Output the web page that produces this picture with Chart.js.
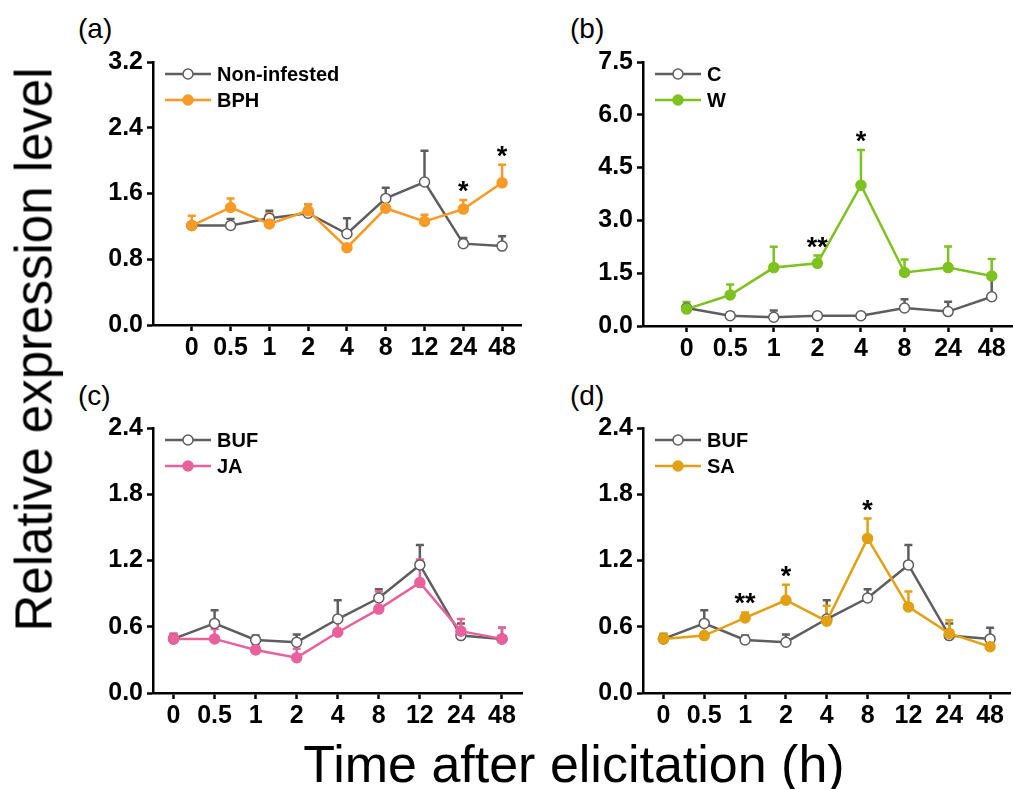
<!DOCTYPE html>
<html lang="en">
<head>
  <meta charset="UTF-8">
  <title>Relative expression level</title>
  <script src="https://cdn.jsdelivr.net/npm/chart.js"></script>
  <style>
    html, body {
      margin: 0;
      padding: 0;
      background: #fff;
      overflow: hidden;
      width: 1013px;
      height: 789px;
      font-family: 'Liberation Sans', Arial, sans-serif;
    }
    .box {
      position: absolute;
    }
    .tag {
      position: absolute;
      font-size: 28px;
      line-height: 28px;
      color: #000;
    }
    #ytitle {
      position: absolute;
      width: 700px;
      height: 51px;
      font-size: 51px;
      line-height: 51px;
      text-align: center;
      left: -316px;
      top: 324px;
      transform: rotate(-90deg);
      white-space: nowrap;
    }
    #xtitle {
      position: absolute;
      width: 1000px;
      font-size: 52px;
      line-height: 52px;
      text-align: center;
      left: 74px;
      top: 738px;
      white-space: nowrap;
    }
  </style>
</head>
<body>

<div class="tag" style="left:78px;top:15px">(a)</div>
<div class="tag" style="left:570px;top:15px">(b)</div>
<div class="tag" style="left:78px;top:382px">(c)</div>
<div class="tag" style="left:570px;top:382px">(d)</div>

<div class="box" style="left:50px;top:40px"><canvas id="chartA" width="478" height="325"></canvas></div>
<div class="box" style="left:540px;top:40px"><canvas id="chartB" width="480" height="326"></canvas></div>
<div class="box" style="left:50px;top:406px"><canvas id="chartC" width="479" height="327"></canvas></div>
<div class="box" style="left:540px;top:406px"><canvas id="chartD" width="477" height="327"></canvas></div>

<div id="ytitle">Relative expression level</div>
<div id="xtitle">Time after elicitation (h)</div>

<script>
  // time points (h)
  const hoursA = ['0', '0.5', '1', '2', '4', '8', '12', '24', '48'];
  const hoursB = ['0', '0.5', '1', '2', '4', '8', '24', '48'];
  const hoursCD = ['0', '0.5', '1', '2', '4', '8', '12', '24', '48'];

  // (a) non-infested vs BPH
  const nonInfested = [1.21, 1.21, 1.30, 1.36, 1.11, 1.54, 1.74, 0.99, 0.96];
  const nonInfestedErr = [0.03, 0.08, 0.09, 0.11, 0.19, 0.13, 0.38, 0.07, 0.12];
  const bph = [1.21, 1.43, 1.23, 1.39, 0.94, 1.42, 1.26, 1.41, 1.73];
  const bphErr = [0.12, 0.11, 0.13, 0.08, 0.02, 0.03, 0.08, 0.11, 0.22];
  const starsA = ['', '', '', '', '', '', '', '*', '*'];

  // (b) C vs W
  const ctrlB = [0.51, 0.29, 0.25, 0.29, 0.29, 0.51, 0.41, 0.83];
  const ctrlBErr = [0.05, 0.09, 0.19, 0.08, 0.08, 0.25, 0.28, 0.59];
  const wound = [0.48, 0.88, 1.66, 1.78, 4.00, 1.52, 1.66, 1.42];
  const woundErr = [0.20, 0.30, 0.59, 0.22, 1.00, 0.37, 0.60, 0.48];
  const starsB = ['', '', '', '**', '*', '', '', ''];

  // (c) BUF vs JA
  const bufC = [0.49, 0.63, 0.48, 0.46, 0.67, 0.86, 1.16, 0.52, 0.49];
  const bufCErr = [0.04, 0.12, 0.04, 0.07, 0.17, 0.08, 0.18, 0.11, 0.10];
  const ja = [0.49, 0.49, 0.39, 0.32, 0.55, 0.76, 1.00, 0.56, 0.49];
  const jaErr = [0.05, 0.09, 0.05, 0.08, 0.10, 0.16, 0.21, 0.11, 0.10];
  const starsC = ['', '', '', '', '', '', '', '', ''];

  // (d) BUF vs SA
  const bufD = [0.49, 0.63, 0.48, 0.46, 0.67, 0.86, 1.16, 0.52, 0.49];
  const bufDErr = [0.04, 0.12, 0.04, 0.07, 0.17, 0.08, 0.18, 0.11, 0.10];
  const sa = [0.49, 0.52, 0.68, 0.84, 0.65, 1.40, 0.78, 0.54, 0.42];
  const saErr = [0.05, 0.09, 0.05, 0.14, 0.14, 0.18, 0.14, 0.12, 0.06];
  const starsD = ['', '', '**', '*', '', '*', '', '', ''];

  const FONT = "'Liberation Sans', Arial, sans-serif";
  const GRAY = '#5e5e5e';

  // error bars (upper only), stars and the line+marker legend
  const extras = {
    id: 'extras',
    beforeDatasetsDraw(chart, args, opts) {
      const ctx = chart.ctx, xs = chart.scales.x, ys = chart.scales.y;
      ctx.save();
      ctx.lineWidth = 2.5;
      chart.data.datasets.forEach((ds, k) => {
        const errs = opts.errs[k];
        ctx.strokeStyle = ds.borderColor;
        ds.data.forEach((p, i) => {
          const x = xs.getPixelForValue(p.x);
          const y0 = ys.getPixelForValue(p.y);
          const y1 = ys.getPixelForValue(p.y + errs[i]);
          ctx.beginPath();
          ctx.moveTo(x, y0);
          ctx.lineTo(x, y1);
          ctx.moveTo(x - 4, y1);
          ctx.lineTo(x + 4, y1);
          ctx.stroke();
        });
      });
      ctx.restore();
    },
    afterDraw(chart, args, opts) {
      const ctx = chart.ctx, xs = chart.scales.x, ys = chart.scales.y;
      const area = chart.chartArea;
      ctx.save();
      // significance marks above the treatment error bar
      const trt = chart.data.datasets[1];
      ctx.fillStyle = '#000';
      ctx.font = 'bold 27px ' + FONT;
      ctx.textAlign = 'center';
      ctx.textBaseline = 'alphabetic';
      opts.stars.forEach((s, i) => {
        if (!s) return;
        const x = xs.getPixelForValue(i);
        const y = ys.getPixelForValue(trt.data[i].y + opts.errs[1][i]);
        ctx.fillText(s, x, y);
      });
      // legend
      chart.data.datasets.forEach((ds, k) => {
        const y = area.top + 12 + k * 26;
        const x0 = area.left + 12, x1 = area.left + 58;
        ctx.strokeStyle = ds.borderColor;
        ctx.lineWidth = 2.5;
        ctx.beginPath();
        ctx.moveTo(x0, y);
        ctx.lineTo(x1, y);
        ctx.stroke();
        ctx.beginPath();
        ctx.arc((x0 + x1) / 2, y, 5, 0, Math.PI * 2);
        ctx.fillStyle = ds.pointBackgroundColor;
        ctx.fill();
        ctx.lineWidth = 1.5;
        ctx.stroke();
        ctx.fillStyle = '#000';
        ctx.font = 'bold 20px ' + FONT;
        ctx.textAlign = 'left';
        ctx.textBaseline = 'middle';
        ctx.fillText(ds.label, area.left + 64, y + 1);
      });
      ctx.restore();
    }
  };

  function axisStyle() {
    return {
      grid: { drawOnChartArea: false, drawTicks: true, tickLength: 6, tickWidth: 2.5, tickColor: '#000' },
      border: { display: true, color: '#000', width: 2.5 }
    };
  }

  function makePanel(id, cats, ctrl, ctrlErr, ctrlName, trt, trtErr, trtName, trtColor, yMax, yStep, xMin, xMax, stars) {
    const ctx = document.getElementById(id).getContext('2d');
    return new Chart(ctx, {
      type: 'line',
      data: {
        datasets: [
          {
            label: ctrlName,
            data: ctrl.map((v, i) => ({ x: i, y: v })),
            borderColor: GRAY,
            backgroundColor: GRAY,
            pointBackgroundColor: '#fff',
            pointBorderColor: GRAY,
            pointRadius: 5,
            pointBorderWidth: 1.5,
            borderWidth: 2.5,
            order: 1
          },
          {
            label: trtName,
            data: trt.map((v, i) => ({ x: i, y: v })),
            borderColor: trtColor,
            backgroundColor: trtColor,
            pointBackgroundColor: trtColor,
            pointBorderColor: trtColor,
            pointRadius: 5,
            pointBorderWidth: 1.5,
            borderWidth: 2.5,
            order: 0
          }
        ]
      },
      options: {
        responsive: false,
        animation: false,
        devicePixelRatio: 1,
        layout: { padding: { top: 22, left: 0, right: 0, bottom: 0 } },
        plugins: {
          legend: { display: false },
          tooltip: { enabled: false },
          extras: { errs: [ctrlErr, trtErr], stars: stars }
        },
        scales: {
          x: Object.assign({
            type: 'linear',
            min: xMin,
            max: xMax,
            afterBuildTicks: s => { s.ticks = cats.map((c, i) => ({ value: i })); },
            afterFit: s => { s.height = 40; },
            ticks: {
              callback: v => cats[v] ?? '',
              autoSkip: false,
              maxRotation: 0,
              padding: 2,
              color: '#000',
              font: { family: FONT, size: 25, weight: 'bold' }
            }
          }, axisStyle()),
          y: Object.assign({
            type: 'linear',
            min: 0,
            max: yMax,
            afterFit: s => { s.width = 103; },
            ticks: {
              stepSize: yStep,
              callback: v => v.toFixed(1),
              padding: 4,
              color: '#000',
              font: { family: FONT, size: 25, weight: 'bold' }
            }
          }, axisStyle())
        }
      },
      plugins: [extras]
    });
  }

  makePanel('chartA', hoursA, nonInfested, nonInfestedErr, 'Non-infested', bph, bphErr, 'BPH', '#F89A26', 3.2, 0.8, -1, 8.5, starsA);
  makePanel('chartB', hoursB, ctrlB, ctrlBErr, 'C', wound, woundErr, 'W', '#7DC21E', 7.5, 1.5, -1, 7.5, starsB);
  makePanel('chartC', hoursCD, bufC, bufCErr, 'BUF', ja, jaErr, 'JA', '#E9619C', 2.4, 0.6, -0.5, 8.5, starsC);
  makePanel('chartD', hoursCD, bufD, bufDErr, 'BUF', sa, saErr, 'SA', '#E2A115', 2.4, 0.6, -0.5, 8.5, starsD);
</script>

</body>
</html>
